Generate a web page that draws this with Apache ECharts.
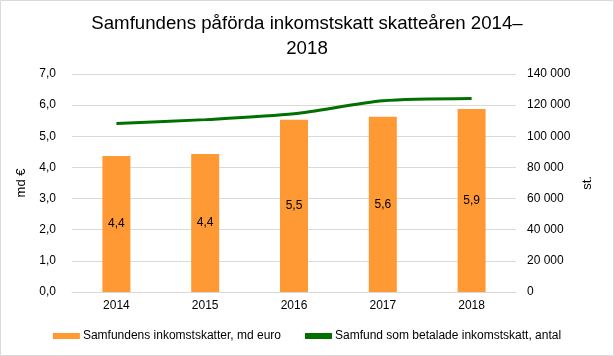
<!DOCTYPE html>
<html>
<head>
<meta charset="utf-8">
<script src="https://cdn.jsdelivr.net/npm/echarts@6/dist/echarts.min.js"></script>
<style>html,body{margin:0;padding:0;background:#fff;}#c{width:614px;height:356px;}</style>
</head>
<body>
<div id="c"></div>
<script>
const categories = ['2014', '2015', '2016', '2017', '2018'];
const taxValues = [4.37, 4.43, 5.53, 5.63, 5.88];
const taxLabels = ['4,4', '4,4', '5,5', '5,6', '5,9'];
const payerCounts = [108200, 110700, 114400, 122800, 124300];
const barName = 'Samfundens inkomstskatter, md euro';
const lineName = 'Samfund som betalade inkomstskatt, antal';
const titleText = 'Samfundens påförda inkomstskatt skatteåren 2014–\n2018';

const font = 'Liberation Sans, Arial, sans-serif';
const chart = echarts.init(document.getElementById('c'));
chart.setOption({
  animation: false,
  textStyle: { fontFamily: font },
  graphic: [{ type: 'rect', shape: { x: 0.5, y: 0.5, width: 613, height: 355 }, style: { fill: 'none', stroke: '#d9d9d9', lineWidth: 1 } }],
  title: {
    text: titleText, left: 'center', top: 6,
    textStyle: { fontFamily: font, fontSize: 18.67, fontWeight: 'normal', color: '#000', lineHeight: 25 }
  },
  legend: {
    bottom: 9, left: 'center', itemGap: 24, itemWidth: 27, itemHeight: 6,
    textStyle: { fontFamily: font, fontSize: 12, color: '#000', padding: [0, 0, 0, -2] },
    data: [
      { name: barName, icon: 'rect' },
      { name: lineName, icon: 'rect', itemStyle: { color: '#007000' } }
    ]
  },
  grid: { left: 72, right: 98, top: 74, bottom: 64 },
  xAxis: {
    type: 'category', data: categories,
    axisLine: { lineStyle: { color: '#d9d9d9' } }, axisTick: { show: false },
    axisLabel: { color: '#000', fontSize: 12, margin: 8, fontFamily: font }
  },
  yAxis: [
    {
      type: 'value', min: 0, max: 7, interval: 1, name: 'md €', nameLocation: 'middle', nameGap: 37, nameRotate: 90,
      nameTextStyle: { color: '#000', fontSize: 13, fontFamily: font },
      axisLabel: { color: '#000', fontSize: 12, margin: 16, fontFamily: font, formatter: v => v.toFixed(1).replace('.', ',') },
      splitLine: { lineStyle: { color: '#d9d9d9' } }, axisLine: { show: false }, axisTick: { show: false }
    },
    {
      type: 'value', min: 0, max: 140000, interval: 20000, name: 'st.', nameLocation: 'middle', nameGap: 64, nameRotate: 90,
      nameTextStyle: { color: '#000', fontSize: 13, fontFamily: font },
      axisLabel: { color: '#000', fontSize: 12, margin: 11, fontFamily: font, formatter: v => String(v).replace(/\B(?=(\d{3})+(?!\d))/g, ' ') },
      splitLine: { show: false }, axisLine: { show: false }, axisTick: { show: false }
    }
  ],
  series: [
    {
      name: barName, type: 'bar', data: taxValues, barWidth: 28, yAxisIndex: 0,
      itemStyle: { color: '#FF9933' },
      label: { show: true, position: 'inside', color: '#000', fontSize: 12, fontFamily: font, formatter: p => taxLabels[p.dataIndex] }
    },
    {
      name: lineName, type: 'line', data: payerCounts, yAxisIndex: 1, smooth: 0.25,
      symbol: 'none', lineStyle: { color: '#007000', width: 3 }, itemStyle: { color: '#007000' }
    }
  ]
});
</script>
</body>
</html>
